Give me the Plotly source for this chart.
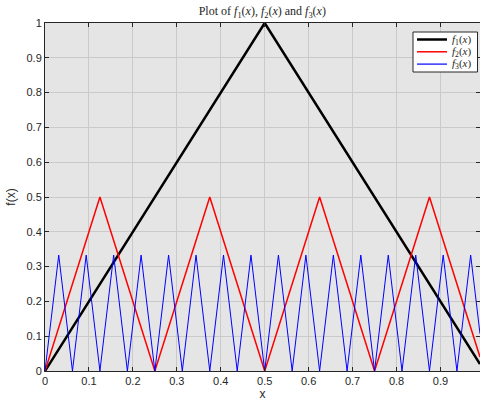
import plotly.graph_objects as go

# Vertex points (piecewise-linear curves)
x_f1 = [0.0, 0.5, 0.99]
y_f1 = [0.0, 1.0, 0.02]

x_f2 = [0.0, 0.125, 0.25, 0.375, 0.5, 0.625, 0.75, 0.875, 0.99]
y_f2 = [0.0, 0.5, 0.0, 0.5, 0.0, 0.5, 0.0, 0.5, 0.04]

x_f3 = [0.0, 0.03125, 0.0625, 0.09375, 0.125, 0.15625, 0.1875, 0.21875,
        0.25, 0.28125, 0.3125, 0.34375, 0.375, 0.40625, 0.4375, 0.46875,
        0.5, 0.53125, 0.5625, 0.59375, 0.625, 0.65625, 0.6875, 0.71875,
        0.75, 0.78125, 0.8125, 0.84375, 0.875, 0.90625, 0.9375, 0.96875, 0.99]
y_f3 = [0.0, 0.333, 0.0, 0.333, 0.0, 0.333, 0.0, 0.333,
        0.0, 0.333, 0.0, 0.333, 0.0, 0.333, 0.0, 0.333,
        0.0, 0.333, 0.0, 0.333, 0.0, 0.333, 0.0, 0.333,
        0.0, 0.333, 0.0, 0.333, 0.0, 0.333, 0.0, 0.333, 0.107]

x_ticks = [0, 0.1, 0.2, 0.3, 0.4, 0.5, 0.6, 0.7, 0.8, 0.9]
x_tick_labels = ["0", "0.1", "0.2", "0.3", "0.4", "0.5", "0.6", "0.7", "0.8", "0.9"]
y_ticks = [0, 0.1, 0.2, 0.3, 0.4, 0.5, 0.6, 0.7, 0.8, 0.9, 1]
y_tick_labels = ["0", "0.1", "0.2", "0.3", "0.4", "0.5", "0.6", "0.7", "0.8", "0.9", "1"]

names = ["<i>f</i><sub>1</sub>(<i>x</i>)", "<i>f</i><sub>2</sub>(<i>x</i>)",
         "<i>f</i><sub>3</sub>(<i>x</i>)"]
colors = ["black", "#ff0000", "#0000ff"]
widths = [2.5, 1.5, 1]
legend_widths = [2.5, 1.5, 1.2]

fig = go.Figure()
for xs, ys, nm, c, w in zip([x_f1, x_f2, x_f3], [y_f1, y_f2, y_f3], names, colors, widths):
    fig.add_trace(go.Scatter(x=xs, y=ys, mode="lines", name=nm,
                             line=dict(color=c, width=w), showlegend=False))

# Compact MATLAB-style legend drawn in paper coordinates
L, T, B = 45, 23, 371
PW, PH = 435, 348
def px(v):
    return (v - L) / PW
def py(v):
    return (B - v) / PH

shapes = [dict(type="rect", xref="paper", yref="paper",
               x0=px(413), x1=px(477.5), y0=py(72), y1=py(32),
               fillcolor="white", line=dict(color="#262626", width=1), layer="above")]
annotations = []
for i, (nm, c, w) in enumerate(zip(names, colors, legend_widths)):
    yy = 39.5 + i * 12.3
    shapes.append(dict(type="line", xref="paper", yref="paper",
                       x0=px(417), x1=px(447), y0=py(yy), y1=py(yy),
                       line=dict(color=c, width=w), layer="above"))
    annotations.append(dict(text=nm, xref="paper", yref="paper", x=px(450), y=py(yy),
                            xanchor="left", yanchor="middle", showarrow=False,
                            font=dict(family="Liberation Serif, DejaVu Serif, serif",
                                      size=11, color="#262626")))

axis_common = dict(
    showgrid=True, gridcolor="#cacaca", gridwidth=1,
    zeroline=False, showline=True, linecolor="#262626", linewidth=1,
    ticks="inside", ticklen=4, tickcolor="#262626", mirror="ticks",
    automargin=False,
    tickfont=dict(family="Liberation Sans, Arial, sans-serif", size=11, color="#262626"),
)

fig.update_layout(
    width=480, height=401,
    margin=dict(l=45, r=0, t=23, b=30),
    paper_bgcolor="white",
    plot_bgcolor="#e5e5e5",
    title=dict(text="Plot of <i>f</i><sub>1</sub>(<i>x</i>), <i>f</i><sub>2</sub>(<i>x</i>) and <i>f</i><sub>3</sub>(<i>x</i>)",
               x=0.5465, xanchor="center", y=0.972, yanchor="middle",
               font=dict(family="Liberation Serif, DejaVu Serif, serif", size=12, color="#262626")),
    xaxis=dict(range=[0, 0.99], tickvals=x_ticks, ticktext=x_tick_labels,
               title=dict(text="x", standoff=10,
                          font=dict(family="Liberation Sans, Arial, sans-serif", size=12, color="#262626")),
               **axis_common),
    yaxis=dict(range=[0, 1], tickvals=y_ticks, ticktext=y_tick_labels,
               title=dict(text="f(x)", standoff=8,
                          font=dict(family="Liberation Sans, Arial, sans-serif", size=12, color="#262626")),
               **axis_common),
    shapes=shapes,
    annotations=annotations,
    showlegend=False,
)

fig.write_html("out.html", config={"displayModeBar": False},
               post_script="document.body.style.margin='0';document.body.style.padding='0';")
